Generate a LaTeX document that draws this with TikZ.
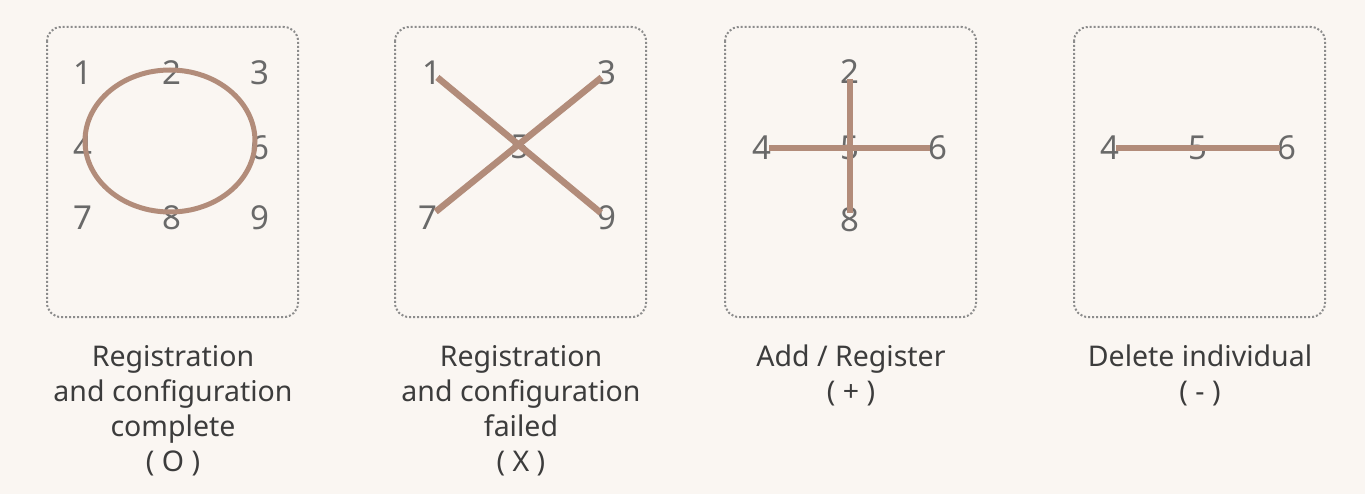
\documentclass[tikz,border=0pt]{standalone}
\usepackage{fontspec}
\setmainfont{Noto Sans}
\usepackage{tikz}
\usetikzlibrary{calc}
\definecolor{bg_cream}{RGB}{250, 246, 242}
\definecolor{mk_brown}{RGB}{178, 140, 122}
\definecolor{dg_grey}{RGB}{105, 105, 105}
\definecolor{fr_grey}{RGB}{140, 140, 140}
\definecolor{tx_grey}{RGB}{60, 60, 60}
\tikzstyle{dg}=[inner sep=0pt,text=dg_grey,font=\fontsize{33}{33}\selectfont]
\tikzstyle{frm}=[draw=fr_grey,line width=2pt,dotted,rounded corners=14pt]
\tikzstyle{mk}=[draw=mk_brown,line width=6.5pt]
\tikzstyle{lbl}=[inner sep=0pt,anchor=north,align=center,text=tx_grey,
  font=\fontsize{28.5}{35}\selectfont]

\begin{document}
\begin{tikzpicture}[x=1pt,y=-1pt]
    \fill [bg_cream] (0, 0) rectangle (1365, 494);
    \useasboundingbox (0, 0) rectangle (1365, 494);
    % frames
    \draw [style=frm] (47, 27) rectangle (298, 317);
    \draw [style=frm] (395, 27) rectangle (646, 317);
    \draw [style=frm] (725, 27) rectangle (976, 317);
    \draw [style=frm] (1074, 27) rectangle (1325, 317);
    % (O)
    \node [style=dg] (a1) at (83, 73) {1};
    \node [style=dg] (a2) at (172, 73) {2};
    \node [style=dg] (a3) at (260, 73) {3};
    \node [style=dg] (a4) at (83, 148) {4};
    \node [style=dg] (a6) at (260, 148) {6};
    \node [style=dg] (a7) at (83, 218) {7};
    \node [style=dg] (a8) at (172, 218) {8};
    \node [style=dg] (a9) at (260, 218) {9};
    \coordinate (o) at (170, 141);
    \draw [style=mk, line width=5pt] (o) ellipse [x radius=85, y radius=71];
    % (X)
    \node [style=dg] (b1) at (432, 73) {1};
    \node [style=dg] (b3) at (607, 73) {3};
    \node [style=dg] (b5) at (520, 147) {5};
    \node [style=dg] (b7) at (428, 218) {7};
    \node [style=dg] (b9) at (607, 218) {9};
    \draw [style=mk, shorten <=7pt, shorten >=8pt] (b1.center) to (b9.center);
    \draw [style=mk, shorten <=7pt, shorten >=10pt] (b3.center) to (b7.center);
    % (+)
    \node [style=dg] (c2) at (850, 72) {2};
    \node [style=dg] (c4) at (762, 148) {4};
    \node [style=dg] (c5) at (850, 148) {5};
    \node [style=dg] (c6) at (938, 148) {6};
    \node [style=dg] (c8) at (850, 220) {8};
    \draw [style=mk, shorten <=7pt, shorten >=7pt] (c2.center) to (c8.center);
    \draw [style=mk, shorten <=7pt, shorten >=8pt] (c4.center) to (c6.center);
    % (-)
    \node [style=dg] (d4) at (1110, 148) {4};
    \node [style=dg] (d5) at (1198, 148) {5};
    \node [style=dg] (d6) at (1287, 148) {6};
    \draw [style=mk, shorten <=6pt, shorten >=7pt] (d4.center) to (d6.center);
    % captions
    \node [style=lbl] (t1) at (173, 345) {Registration\\and configuration\\complete\\( O )};
    \node [style=lbl] (t2) at (521, 345) {Registration\\and configuration\\failed\\( X )};
    \node [style=lbl] (t3) at (851, 345) {Add / Register\\( + )};
    \node [style=lbl] (t4) at (1200, 345) {Delete individual\\( - )};
\end{tikzpicture}
\end{document}
